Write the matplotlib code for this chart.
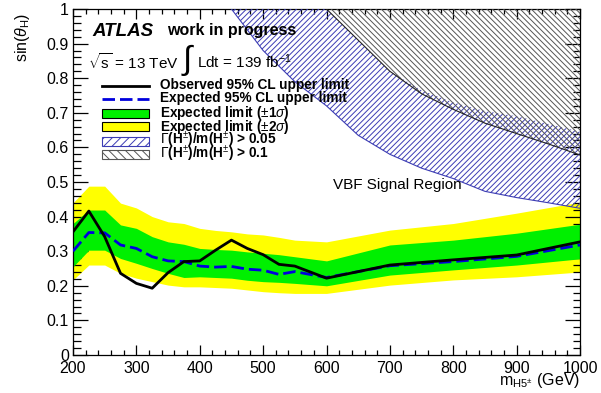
import matplotlib
matplotlib.use("Agg")
import matplotlib.pyplot as plt
from matplotlib.lines import Line2D
from matplotlib.patches import Rectangle
from matplotlib.ticker import MultipleLocator

plt.rcParams['font.family'] = ['Liberation Sans', 'DejaVu Sans']
plt.rcParams['mathtext.fontset'] = 'custom'
plt.rcParams['mathtext.rm'] = 'Liberation Sans'
plt.rcParams['mathtext.it'] = 'Liberation Sans:italic'
plt.rcParams['mathtext.bf'] = 'Liberation Sans:bold'
plt.rcParams['hatch.linewidth'] = 0.7

# ---- data ----
mass = [200, 225, 250, 275, 300, 325, 350, 375, 400, 425, 450, 475, 500, 525, 550, 600, 700, 800, 900, 1000]
observed = [0.356, 0.416, 0.342, 0.236, 0.207, 0.193, 0.238, 0.270, 0.272, 0.303, 0.332, 0.308, 0.290, 0.262, 0.257, 0.222, 0.260, 0.275, 0.289, 0.327]
expected = [0.300, 0.354, 0.353, 0.318, 0.308, 0.284, 0.272, 0.270, 0.257, 0.254, 0.256, 0.248, 0.245, 0.233, 0.241, 0.224, 0.258, 0.270, 0.285, 0.318]
band2_up = [0.440, 0.488, 0.488, 0.439, 0.425, 0.400, 0.385, 0.380, 0.366, 0.360, 0.356, 0.350, 0.347, 0.340, 0.332, 0.327, 0.361, 0.380, 0.410, 0.442]
band1_up = [0.380, 0.419, 0.419, 0.376, 0.366, 0.342, 0.327, 0.320, 0.308, 0.305, 0.303, 0.298, 0.294, 0.290, 0.284, 0.272, 0.318, 0.332, 0.352, 0.378]
band1_dn = [0.255, 0.303, 0.303, 0.279, 0.265, 0.250, 0.236, 0.224, 0.226, 0.224, 0.222, 0.216, 0.212, 0.210, 0.207, 0.200, 0.231, 0.246, 0.260, 0.278]
band2_dn = [0.217, 0.260, 0.260, 0.236, 0.222, 0.212, 0.202, 0.197, 0.197, 0.195, 0.193, 0.188, 0.183, 0.180, 0.178, 0.178, 0.202, 0.217, 0.226, 0.240]

# Gamma/m > 0.05 region (lower and upper edge of the hatched area)
mass_w05 = [450, 475, 500, 525, 550, 600, 650, 700, 750, 800, 850, 900, 950, 1000]
width05 = [1.0, 0.94, 0.88, 0.835, 0.79, 0.72, 0.635, 0.58, 0.54, 0.51, 0.473, 0.455, 0.44, 0.424]
width05_up = [1.0, 1.0, 1.0, 1.0, 1.0, 1.0, 0.91, 0.82, 0.765, 0.73, 0.705, 0.69, 0.668, 0.645]
# Gamma/m > 0.1 region
mass_w10 = [600, 650, 700, 750, 800, 850, 900, 950, 1000]
width10 = [1.0, 0.91, 0.82, 0.755, 0.71, 0.67, 0.64, 0.61, 0.578]

x_ticks = [200, 300, 400, 500, 600, 700, 800, 900, 1000]
y_ticks = [0, 0.1, 0.2, 0.3, 0.4, 0.5, 0.6, 0.7, 0.8, 0.9, 1]
y_ticklabels = ['0', '0.1', '0.2', '0.3', '0.4', '0.5', '0.6', '0.7', '0.8', '0.9', '1']

legend_labels = [
    'Observed 95% CL upper limit',
    'Expected 95% CL upper limit',
    r'Expected limit ($\pm$1$\sigma$)',
    r'Expected limit ($\pm$2$\sigma$)',
    r'$\Gamma$(H$^{\pm}$)/m(H$^{\pm}$) > 0.05',
    r'$\Gamma$(H$^{\pm}$)/m(H$^{\pm}$) > 0.1',
]

GREEN = '#00f000'
YELLOW = '#ffff00'
BLUE = '#0000dd'
HBLUE = '#3c3cb4'
HGREY = '#555555'
HATCH_B = '//////'
HATCH_K = '\\\\\\\\\\\\'
HATCH_B_LEG = '////'
HATCH_K_LEG = '\\\\\\\\'

W, H = 601, 393
AX_L, AX_R, AX_T, AX_B = 73, 580, 9, 355
fig = plt.figure(figsize=(W / 100, H / 100), dpi=100)
ax = fig.add_axes([AX_L / W, 1 - AX_B / H, (AX_R - AX_L) / W, (AX_B - AX_T) / H])

ax.fill_between(mass, band2_dn, band2_up, color=YELLOW, lw=0, zorder=1)
ax.fill_between(mass, band1_dn, band1_up, color=GREEN, lw=0, zorder=2)

ones10 = [1.0] * len(mass_w10)
ax.fill_between(mass_w05, width05, width05_up, facecolor='none', edgecolor=HBLUE,
                hatch=HATCH_B, lw=0, zorder=3)
ax.plot(mass_w05, width05, color=HBLUE, lw=0.8, zorder=3)
ax.fill_between(mass_w10, width10, ones10, facecolor='none', edgecolor=HGREY,
                hatch=HATCH_K, lw=0, zorder=3)
ax.plot(mass_w10, width10, color='#222222', lw=0.8, zorder=3)

ax.plot(mass, expected, color=BLUE, lw=2.0, dashes=(4.5, 1.8), zorder=4)
ax.plot(mass, observed, color='black', lw=2.0, zorder=5)

ax.set_xlim(200, 1000)
ax.set_ylim(0, 1)
ax.set_xticks(x_ticks)
ax.set_xticklabels([str(t) for t in x_ticks])
ax.set_yticks(y_ticks)
ax.set_yticklabels(y_ticklabels)
ax.xaxis.set_minor_locator(MultipleLocator(20))
ax.yaxis.set_minor_locator(MultipleLocator(0.02))
ax.tick_params(which='both', direction='in', top=True, right=True, labelsize=11.5, width=0.9)
ax.tick_params(axis='x', which='major', length=7.2, pad=4)
ax.tick_params(axis='x', which='minor', length=3.6)
ax.tick_params(axis='y', which='major', length=10.8, pad=3)
ax.tick_params(axis='y', which='minor', length=5.4)
for s in ax.spines.values():
    s.set_linewidth(0.9)

ax.set_xlabel(r'm$_{\mathrm{H5}^{\pm}}$ (GeV)', fontsize=11.5, loc='right')
ax.xaxis.set_label_coords(1.0, -0.045)
ax.set_ylabel(r'sin($\theta_{\mathrm{H}}$)', fontsize=11.5, loc='top')
ax.yaxis.set_label_coords(-0.08, 0.99)


def ax_x(px):
    return (px - AX_L) / (AX_R - AX_L)


def ax_y(py):
    return (AX_B - py) / (AX_B - AX_T)


T = ax.transAxes
ax.text(ax_x(92), ax_y(31), 'ATLAS', transform=T, fontsize=13.5, fontweight='bold',
        fontstyle='italic', va='center', ha='left')
ax.text(ax_x(167), ax_y(31), 'work in progress', transform=T, fontsize=11.5, fontweight='bold',
        va='center', ha='left')
ax.text(ax_x(88), ax_y(62), r'$\sqrt{\mathrm{s}}$ = 13 TeV', transform=T, fontsize=11,
        va='center', ha='left')
ax.text(ax_x(181), ax_y(60), r'$\int$', transform=T, fontsize=24, va='center', ha='left')
ax.text(ax_x(197), ax_y(62), r'Ldt = 139 fb$^{-1}$', transform=T, fontsize=11,
        va='center', ha='left')
ax.text(ax_x(333), ax_y(185), 'VBF Signal Region', transform=T, fontsize=11,
        va='center', ha='left')

# ---- legend (manual, ROOT-like) ----
row_c = [85.5, 98.5, 113.5, 126.8, 141, 154.8]
sw_l, sw_r, sw_h = ax_x(102), ax_x(149), 9 / (AX_B - AX_T)
txt_x = ax_x(160)
ax.add_line(Line2D([sw_l, sw_r], [ax_y(row_c[0])] * 2, transform=T, color='black', lw=2.0, zorder=6))
ax.add_line(Line2D([sw_l, sw_r], [ax_y(row_c[1])] * 2, transform=T, color=BLUE, lw=2.0,
                   dashes=(4.5, 1.8), zorder=6))
sw_styles = [
    dict(facecolor=GREEN, edgecolor='black'),
    dict(facecolor=YELLOW, edgecolor='black'),
    dict(facecolor='white', edgecolor=HBLUE, hatch=HATCH_B_LEG),
    dict(facecolor='white', edgecolor=HGREY, hatch=HATCH_K_LEG),
]
for k, st in enumerate(sw_styles):
    yc = ax_y(row_c[k + 2])
    ax.add_patch(Rectangle((sw_l, yc - sw_h / 2), sw_r - sw_l, sw_h, transform=T,
                           lw=0.8, zorder=6, **st))
for k, lab in enumerate(legend_labels):
    ax.text(txt_x, ax_y(row_c[k] + 3.7), lab, transform=T, fontsize=9.8, fontweight='bold',
            va='baseline', ha='left', zorder=7)

fig.savefig('out.png', dpi=100)
